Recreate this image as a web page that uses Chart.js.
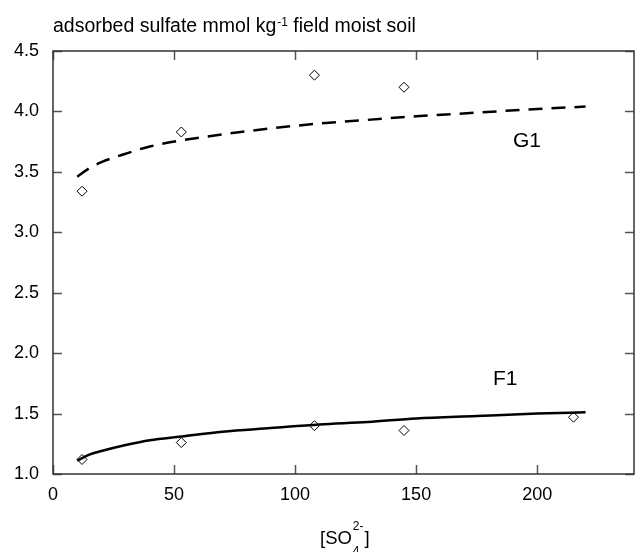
<!DOCTYPE html>
<html>
<head>
<meta charset="utf-8">
<script src="https://cdn.jsdelivr.net/npm/chart.js@4.4.1/dist/chart.umd.min.js"></script>
<style>
  html, body { margin: 0; padding: 0; background: #fff; }
  #wrap { width: 640px; height: 552px; position: relative; }
</style>
</head>
<body>
<div id="wrap"><canvas id="chart"></canvas></div>
<script>
// fitted curves
const fitX  = [10, 15, 20, 30, 40, 53, 70, 90, 110, 130, 150, 175, 200, 220];
const g1Fit = [3.46, 3.53, 3.58, 3.65, 3.71, 3.76, 3.81, 3.86, 3.90, 3.93, 3.96, 3.99, 4.02, 4.04];
const f1Fit = [1.11, 1.16, 1.19, 1.24, 1.28, 1.31, 1.35, 1.38, 1.41, 1.43, 1.46, 1.48, 1.50, 1.51];

// measured points
const g1ObsX = [12, 53, 108, 145];
const g1Obs  = [3.34, 3.83, 4.30, 4.20];
const f1ObsX = [12, 53, 108, 145, 215];
const f1Obs  = [1.12, 1.26, 1.40, 1.36, 1.47];

const xTicks = [0, 50, 100, 150, 200];
const yTicks = [1.0, 1.5, 2.0, 2.5, 3.0, 3.5, 4.0, 4.5];

const FONT = '"Liberation Sans", Arial, Helvetica, sans-serif';

const pts = (xs, ys) => xs.map((x, i) => ({ x: x, y: ys[i] }));

// frame, inward ticks and the free text
const framePlugin = {
    id: "frame",
    afterDraw(chart) {
        const ctx = chart.ctx;
        const a = chart.chartArea;
        const xs = chart.scales.x;
        const ys = chart.scales.y;
        const tl = 9;

        ctx.save();
        ctx.strokeStyle = "#555";
        ctx.lineWidth = 1.5;
        ctx.beginPath();
        xTicks.forEach((v) => {
            const px = Math.round(xs.getPixelForValue(v)) + 0.5;
            ctx.moveTo(px, a.top);
            ctx.lineTo(px, a.top + tl);
            ctx.moveTo(px, a.bottom);
            ctx.lineTo(px, a.bottom - tl);
        });
        yTicks.forEach((v) => {
            const py = Math.round(ys.getPixelForValue(v)) + 0.5;
            ctx.moveTo(a.left, py);
            ctx.lineTo(a.left + tl, py);
            ctx.moveTo(a.right, py);
            ctx.lineTo(a.right - tl, py);
        });
        ctx.stroke();
        ctx.strokeStyle = "#333";
        ctx.strokeRect(a.left, a.top, a.right - a.left, a.bottom - a.top);

        ctx.fillStyle = "#000";
        ctx.textBaseline = "alphabetic";
        ctx.textAlign = "left";

        // y title with superscript
        ctx.font = "19.5px " + FONT;
        let t = "adsorbed sulfate mmol kg";
        ctx.fillText(t, 53, 32);
        let x = 53 + ctx.measureText(t).width + 1;
        ctx.font = "12px " + FONT;
        ctx.fillText("-1", x, 26);
        x += ctx.measureText("-1").width;
        ctx.font = "19.5px " + FONT;
        ctx.fillText(" field moist soil", x, 32);

        // x title [SO4 2-]
        ctx.font = "18.5px " + FONT;
        ctx.fillText("[SO", 320, 544);
        x = 320 + ctx.measureText("[SO").width + 1;
        ctx.font = "12px " + FONT;
        ctx.fillText("2-", x, 530);
        ctx.fillText("4", x, 555);
        x += ctx.measureText("2-").width + 1;
        ctx.font = "18.5px " + FONT;
        ctx.fillText("]", x, 544);

        // curve labels
        ctx.font = "21px " + FONT;
        ctx.fillText("G1", 513, 147);
        ctx.fillText("F1", 493, 385);
        ctx.restore();
    },
};

const tickFont = { family: FONT, size: 18 };

new Chart(document.getElementById("chart"), {
    type: "scatter",
    data: {
        datasets: [
            {
                type: "line",
                label: "G1 fit",
                data: pts(fitX, g1Fit),
                borderColor: "#000",
                borderWidth: 2.5,
                borderDash: [14, 9],
                pointRadius: 0,
                fill: false,
                cubicInterpolationMode: "monotone",
            },
            {
                type: "line",
                label: "F1 fit",
                data: pts(fitX, f1Fit),
                borderColor: "#000",
                borderWidth: 2.5,
                pointRadius: 0,
                fill: false,
                cubicInterpolationMode: "monotone",
            },
            {
                label: "G1",
                data: pts(g1ObsX, g1Obs),
                pointStyle: "rectRot",
                pointRadius: 5,
                borderColor: "#000",
                backgroundColor: "#fff",
                borderWidth: 1,
            },
            {
                label: "F1",
                data: pts(f1ObsX, f1Obs),
                pointStyle: "rectRot",
                pointRadius: 5,
                borderColor: "#000",
                backgroundColor: "#fff",
                borderWidth: 1,
            },
        ],
    },
    options: {
        responsive: true,
        maintainAspectRatio: false,
        animation: false,
        layout: { padding: { left: 0, top: 51, right: 1, bottom: 0 } },
        plugins: {
            legend: { display: false },
            tooltip: { enabled: false },
        },
        scales: {
            x: {
                type: "linear",
                min: 0,
                max: 240,
                afterBuildTicks: (scale) => {
                    scale.ticks = xTicks.map((v) => ({ value: v }));
                },
                afterFit: (scale) => {
                    scale.height = 78;
                },
                grid: { display: false, drawTicks: false },
                border: { display: false },
                ticks: { font: tickFont, color: "#000", padding: 10, maxRotation: 0 },
            },
            y: {
                type: "linear",
                min: 1,
                max: 4.5,
                afterBuildTicks: (scale) => {
                    scale.ticks = yTicks.map((v) => ({ value: v }));
                },
                afterFit: (scale) => {
                    scale.width = 53;
                },
                grid: { display: false, drawTicks: false },
                border: { display: false },
                ticks: {
                    font: tickFont,
                    color: "#000",
                    padding: 14,
                    callback: (v) => Number(v).toFixed(1),
                },
            },
        },
    },
    plugins: [framePlugin],
});
</script>
</body>
</html>
